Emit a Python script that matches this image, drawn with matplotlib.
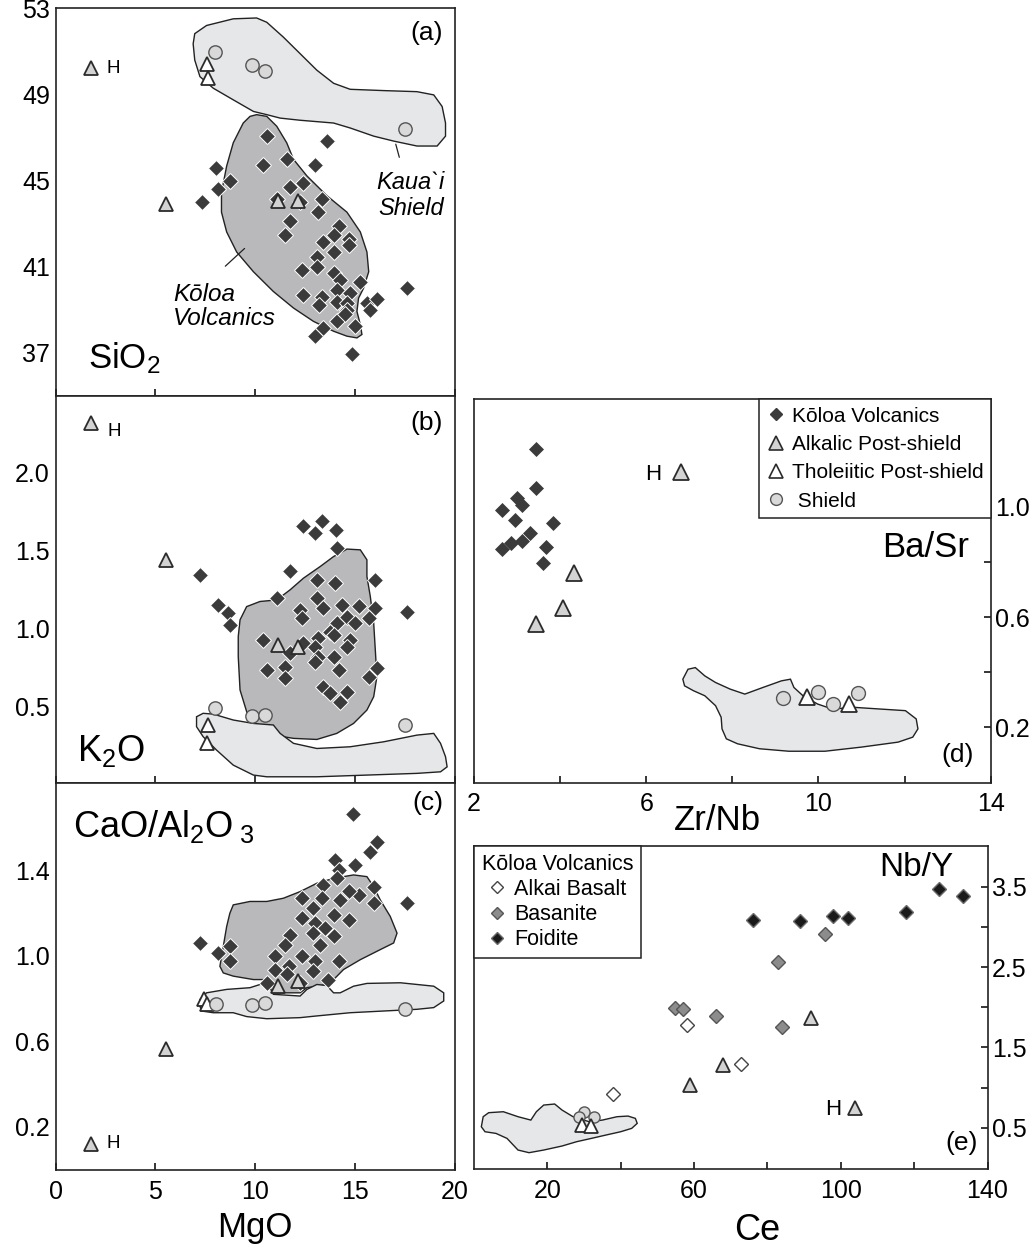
import matplotlib.pyplot as plt
from matplotlib.lines import Line2D
from matplotlib.ticker import FixedLocator, FixedFormatter

plt.rcParams['font.family'] = ['Liberation Sans', 'DejaVu Sans']
plt.rcParams['mathtext.default'] = 'regular'

W, H = 1034, 1248

# ---------------- data: MgO panels (a)-(c) ----------------
a_kol_mgo = [10.59, 13.6, 8.07, 10.42, 11.59, 13.02, 8.74, 8.16, 7.32, 11.76, 12.43, 11.09, 12.26,
             13.35, 13.18, 11.76, 11.51, 14.19, 13.43, 13.94, 14.69, 14.69, 13.1, 12.35, 13.1, 13.94,
             14.27, 15.28, 14.1, 12.43, 13.35, 14.77, 13.2, 14.1, 14.6, 14.6, 15.61, 16.11, 15.78,
             14.1, 13.43, 13.02, 15.03, 14.86, 17.62, 14.5, 13.94]
a_kol_sio2 = [47.08, 46.85, 45.6, 45.72, 46.0, 45.74, 45.0, 44.6, 44.0, 44.69, 44.92, 44.15, 44.0,
              44.15, 43.54, 43.15, 42.46, 42.92, 42.15, 42.46, 42.3, 42.0, 41.46, 40.85, 41.0, 40.7,
              40.38, 40.3, 39.9, 39.7, 39.6, 39.77, 39.2, 39.38, 39.3, 39.0, 39.3, 39.5, 39.0,
              38.46, 38.15, 37.77, 38.23, 36.92, 40.0, 38.8, 41.7]

b_kol_mgo = [12.43, 13.02, 13.35, 14.07, 14.1, 7.24, 8.16, 8.66, 8.74, 11.76, 11.09, 13.1, 14.02,
             13.1, 13.43, 14.36, 15.19, 16.0, 16.0, 15.7, 17.62, 12.26, 12.34, 14.1, 14.6, 15.02,
             13.77, 13.94, 13.18, 14.77, 14.6, 10.42, 11.76, 12.43, 13.02, 13.18, 13.94, 13.02,
             10.59, 11.51, 11.51, 14.19, 15.7, 16.11, 13.43, 13.77, 14.6, 14.27]
b_kol_k2o = [1.655, 1.61, 1.687, 1.633, 1.515, 1.343, 1.15, 1.097, 1.02, 1.365, 1.193, 1.311, 1.29,
             1.193, 1.129, 1.15, 1.14, 1.311, 1.129, 1.064, 1.107, 1.118, 1.064, 1.032, 1.075, 1.032,
             0.979, 0.957, 0.936, 0.925, 0.882, 0.925, 0.839, 0.903, 0.882, 0.818, 0.818, 0.785,
             0.732, 0.753, 0.678, 0.732, 0.689, 0.742, 0.624, 0.582, 0.592, 0.528]

c_kol_mgo = [14.91, 16.11, 15.78, 14.02, 15.03, 14.19, 13.43, 14.1, 15.95, 15.19, 14.69, 17.62,
             15.95, 12.35, 13.35, 12.93, 14.27, 13.94, 12.35, 13.02, 13.52, 14.69, 7.24, 8.74, 8.16,
             8.74, 11.76, 12.93, 13.94, 11.51, 13.27, 10.99, 12.35, 13.02, 14.19, 11.68, 10.99,
             12.93, 13.68, 11.59, 10.59, 12.26]
c_kol_cao = [1.664, 1.532, 1.485, 1.447, 1.423, 1.4, 1.33, 1.361, 1.322, 1.284, 1.3, 1.248, 1.245,
             1.268, 1.268, 1.222, 1.26, 1.191, 1.175, 1.152, 1.129, 1.167, 1.059, 1.043, 1.012,
             0.974, 1.098, 1.105, 1.09, 1.051, 1.051, 0.997, 0.997, 0.974, 0.974, 0.95, 0.935,
             0.927, 0.888, 0.912, 0.873, 0.873]

alk_mgo = [1.79, 5.56, 11.17, 12.18]
alk_sio2 = [50.23, 43.92, 44.08, 44.08]
alk_k2o = [2.32, 1.44, 0.893, 0.882]
alk_cao = [0.121, 0.563, 0.86, 0.881]

thol_mgo_a = [7.57, 7.66]
thol_sio2 = [50.46, 49.77]
thol_mgo_b = [7.66, 7.57]
thol_k2o = [0.378, 0.26]
thol_mgo_c = [7.44, 7.57]
thol_cao = [0.795, 0.772]

sh_mgo = [7.99, 9.83, 10.5, 17.54]
sh_sio2 = [51.0, 50.38, 50.1, 47.42]
sh_k2o = [0.485, 0.436, 0.442, 0.378]
sh_mgo_c = [8.07, 9.83, 10.5, 17.54]
sh_cao = [0.772, 0.767, 0.78, 0.749]

# field outlines
kauai_a_x = [6.98, 7.57, 8.91, 10.08, 10.59, 11.42, 12.26, 13.1, 13.94, 14.77, 16.45, 18.12, 18.96,
             19.38, 19.55, 19.55, 19.13, 18.12, 16.95, 15.95, 14.77, 13.94, 12.26, 11.26, 10.59,
             9.92, 8.91, 7.91, 7.24, 6.98, 6.9]
kauai_a_y = [51.85, 52.23, 52.54, 52.58, 52.38, 51.69, 50.92, 50.15, 49.54, 49.26, 49.2, 49.15, 49.0,
             48.46, 47.69, 47.08, 46.62, 46.62, 46.85, 47.08, 47.46, 47.69, 47.82, 47.92, 48.08,
             48.23, 48.77, 49.31, 49.85, 50.62, 51.38]
koloa_a_x = [10.08, 10.59, 11.09, 11.59, 11.93, 12.6, 13.6, 14.61, 15.28, 15.61, 15.7, 15.44, 15.19,
             15.11, 15.28, 15.36, 15.11, 14.61, 13.94, 12.93, 11.93, 10.92, 9.92, 9.08, 8.58, 8.32,
             8.32, 8.58, 8.91, 9.41, 9.75]
koloa_a_y = [48.08, 48.0, 47.54, 46.77, 46.0, 45.23, 44.31, 43.54, 42.62, 41.69, 40.77, 40.0, 39.54,
             38.92, 38.31, 37.85, 37.69, 37.77, 38.0, 38.46, 39.08, 39.85, 40.77, 41.69, 42.62,
             43.54, 44.46, 45.69, 46.77, 47.69, 48.0]
koloa_b_x = [9.25, 9.58, 10.25, 11.09, 11.76, 12.43, 13.27, 13.94, 14.61, 15.28, 15.61, 15.61, 15.78,
             15.95, 16.03, 16.11, 15.95, 15.61, 14.94, 14.1, 13.1, 11.93, 10.92, 10.08, 9.66, 9.25,
             9.16, 9.16]
koloa_b_y = [1.054, 1.139, 1.172, 1.182, 1.247, 1.322, 1.397, 1.461, 1.509, 1.504, 1.44, 1.333,
             1.204, 1.032, 0.861, 0.689, 0.56, 0.474, 0.388, 0.324, 0.285, 0.292, 0.313, 0.356,
             0.431, 0.603, 0.818, 0.946]
shield_b_x = [7.07, 7.4, 7.91, 8.91, 9.92, 10.92, 11.26, 11.93, 13.1, 14.77, 16.45, 18.12, 18.96,
              19.3, 19.55, 19.63, 19.3, 18.12, 15.61, 13.1, 10.59, 9.92, 8.91, 8.07, 7.4, 7.07]
shield_b_y = [0.431, 0.453, 0.448, 0.41, 0.388, 0.378, 0.324, 0.26, 0.227, 0.238, 0.27, 0.313,
              0.324, 0.26, 0.174, 0.109, 0.077, 0.067, 0.056, 0.045, 0.045, 0.056, 0.12, 0.217,
              0.303, 0.367]
koloa_c_x = [8.74, 8.91, 9.75, 10.59, 11.42, 12.26, 13.1, 13.94, 14.94, 15.61, 15.95, 16.28, 16.78,
             17.12, 16.95, 16.28, 15.28, 14.44, 13.94, 13.6, 13.1, 12.6, 12.26, 11.42, 10.92, 10.59,
             10.42, 9.92, 8.91, 8.41, 8.24, 8.41, 8.58]
koloa_c_y = [1.198, 1.237, 1.253, 1.253, 1.268, 1.299, 1.338, 1.361, 1.377, 1.369, 1.322, 1.26,
             1.183, 1.105, 1.059, 1.028, 0.981, 0.935, 0.888, 0.865, 0.857, 0.85, 0.826, 0.826,
             0.826, 0.857, 0.888, 0.888, 0.904, 0.919, 0.95, 1.043, 1.136]
shield_c_x = [7.24, 7.57, 8.58, 9.75, 10.42, 10.75, 10.92, 12.26, 12.6, 13.1, 13.6, 13.94, 14.27,
              14.94, 15.61, 17.29, 18.96, 19.46, 19.46, 18.96, 18.12, 16.45, 14.77, 13.1, 12.26,
              10.59, 9.58, 8.91, 7.91, 7.32, 7.24]
shield_c_y = [0.795, 0.826, 0.842, 0.85, 0.87, 0.85, 0.819, 0.811, 0.842, 0.865, 0.86, 0.826, 0.826,
              0.857, 0.87, 0.873, 0.857, 0.826, 0.788, 0.757, 0.749, 0.741, 0.733, 0.718, 0.71,
              0.705, 0.715, 0.733, 0.733, 0.741, 0.764]

# ---------------- data: panel (d) Zr/Nb vs Ba/Sr ----------------
d_kol_zrnb = [3.43, 3.44, 2.99, 3.12, 2.65, 2.95, 3.84, 3.31, 3.12, 2.86, 2.65, 3.67, 3.61]
d_kol_basr = [1.21, 1.066, 1.03, 1.006, 0.988, 0.952, 0.94, 0.904, 0.874, 0.868, 0.846, 0.853, 0.796]
d_alk_zrnb = [6.81, 4.32, 4.07, 3.44]
d_alk_basr = [1.126, 0.76, 0.634, 0.574]
d_thol_zrnb = [9.73, 10.7]
d_thol_basr = [0.309, 0.285]
d_sh_zrnb = [9.18, 9.98, 10.34, 10.92]
d_sh_basr = [0.306, 0.327, 0.285, 0.325]
shield_d_x = [6.85, 6.97, 7.14, 7.36, 7.61, 7.95, 8.29, 8.71, 9.14, 9.35, 9.43, 9.64, 9.98, 10.32,
              10.83, 11.42, 12.02, 12.27, 12.31, 12.19, 11.85, 11.0, 10.15, 9.31, 8.63, 8.12, 7.86,
              7.76, 7.74, 7.61, 7.36, 7.1, 6.89]
shield_d_y = [0.375, 0.411, 0.417, 0.387, 0.363, 0.339, 0.321, 0.345, 0.369, 0.375, 0.345, 0.315,
              0.285, 0.267, 0.273, 0.267, 0.261, 0.231, 0.195, 0.165, 0.147, 0.129, 0.114, 0.114,
              0.123, 0.141, 0.159, 0.195, 0.237, 0.279, 0.315, 0.333, 0.351]

# ---------------- data: panel (e) Ce vs Nb/Y ----------------
foid_ce = [76, 89, 98, 102, 117.8, 126.8, 133.2]
foid_nby = [3.085, 3.077, 3.135, 3.106, 3.18, 3.47, 3.384]
bas_ce = [95.8, 83, 54.8, 57, 66, 84]
bas_nby = [2.907, 2.558, 1.985, 1.977, 1.894, 1.749]
ab_ce = [58, 72.8, 38]
ab_nby = [1.778, 1.288, 0.915]
e_alk_ce = [92, 68, 58.8, 104]
e_alk_nby = [1.861, 1.28, 1.031, 0.741]
e_thol_ce = [29.5, 31.8]
e_thol_nby = [0.533, 0.52]
e_sh_ce = [30, 28.5, 32.8]
e_sh_nby = [0.699, 0.637, 0.637]
shield_e_x = [2.5, 4, 8, 12, 15.5, 17, 19, 22, 24, 27, 29, 31.5, 35, 39, 42, 44, 44.5, 43, 40, 36,
              32, 28, 24, 19, 15, 12, 9, 6, 3, 2]
shield_e_y = [0.637, 0.687, 0.699, 0.637, 0.595, 0.699, 0.782, 0.795, 0.72, 0.637, 0.604, 0.575,
              0.595, 0.637, 0.645, 0.616, 0.554, 0.492, 0.45, 0.409, 0.367, 0.326, 0.272, 0.222,
              0.189, 0.222, 0.367, 0.429, 0.45, 0.512]

# ---------------- styles ----------------
DARK_FIELD = '#b9b9bb'
LIGHT_FIELD = '#e6e7e8'
TICK_FS = 18
kol = dict(ls='none', marker='D', ms=8.4, mfc='#3b3b3b', mec='white', mew=0.7)
alk = dict(ls='none', marker='^', ms=10.5, mfc='#d3d3d3', mec='#2b2b2b', mew=1.3)
thol = dict(ls='none', marker='^', ms=10.5, mfc='white', mec='#2b2b2b', mew=1.3)
shd = dict(ls='none', marker='o', ms=9.6, mfc='#d9d9d9', mec='#555555', mew=1.0)

fig = plt.figure(figsize=(W / 100, H / 100), dpi=100)


def add_ax(l, t, r, b):
    ax = fig.add_axes([l / W, 1 - b / H, (r - l) / W, (b - t) / H])
    for s in ax.spines.values():
        s.set_linewidth(1.2)
        s.set_color('#222222')
    return ax


def ftext(x, y, s, **kw):
    fig.text(x / W, 1 - y / H, s, **kw)


def field(ax, xs, ys, color):
    ax.fill(xs, ys, facecolor=color, edgecolor='#222222', lw=1.0, zorder=1)


def left_axes(ax, ylim, yticks):
    ax.set_xlim(0, 20)
    ax.set_ylim(*ylim)
    ax.set_xticks([0, 5, 10, 15, 20])
    ax.set_yticks(yticks)
    ax.tick_params(axis='x', direction='in', length=5, width=1.1, top=False, labelsize=TICK_FS, pad=7)
    ax.tick_params(axis='y', length=0, labelsize=TICK_FS, pad=4)


# ---- (a) SiO2 ----
ax = add_ax(55.5, 8.3, 454.5, 395.7)
field(ax, kauai_a_x, kauai_a_y, LIGHT_FIELD)
field(ax, koloa_a_x, koloa_a_y, DARK_FIELD)
ax.plot(a_kol_mgo, a_kol_sio2, zorder=3, **kol)
ax.plot(alk_mgo, alk_sio2, zorder=4, **alk)
ax.plot(thol_mgo_a, thol_sio2, zorder=4, **thol)
ax.plot(sh_mgo, sh_sio2, zorder=4, **shd)
left_axes(ax, (35.0, 53.03), [37, 41, 45, 49, 53])
ax.set_yticklabels(['37', '41', '45', '49', '53'])
ax.tick_params(axis='x', labelbottom=False)
ax.annotate('H', (alk_mgo[0], alk_sio2[0]), xytext=(11, 0), textcoords='offset points',
            va='center', ha='left', fontsize=13.5)
ax.annotate('', xy=(17.02, 46.83), xytext=(17.27, 45.97),
            arrowprops=dict(arrowstyle='-', lw=0.9, color='#222222'))
ax.annotate('', xy=(9.58, 41.94), xytext=(8.41, 40.94),
            arrowprops=dict(arrowstyle='-', lw=0.9, color='#222222'))
ftext(427, 33, '(a)', fontsize=19, ha='center', va='center')
ftext(88, 368, 'SiO$_2$', fontsize=25, ha='left', va='baseline')
ftext(410.7, 195.8, 'Kaua`i\nShield', fontsize=17, style='italic', ha='center', va='center',
      linespacing=1.15)
ftext(173.3, 306.7, 'K\u014dloa\nVolcanics', fontsize=17.5, style='italic', ha='left', va='center',
      linespacing=1.05)

# ---- (b) K2O ----
ax = add_ax(55.5, 395.7, 454.5, 782.7)
field(ax, koloa_b_x, koloa_b_y, DARK_FIELD)
field(ax, shield_b_x, shield_b_y, LIGHT_FIELD)
ax.plot(b_kol_mgo, b_kol_k2o, zorder=3, **kol)
ax.plot(alk_mgo, alk_k2o, zorder=4, **alk)
ax.plot(thol_mgo_b, thol_k2o, zorder=4, **thol)
ax.plot(sh_mgo, sh_k2o, zorder=4, **shd)
left_axes(ax, (0.007, 2.495), [0.5, 1.0, 1.5, 2.0])
ax.set_yticklabels(['0.5', '1.0', '1.5', '2.0'])
ax.tick_params(axis='x', labelbottom=False)
ax.annotate('H', (alk_mgo[0], alk_k2o[0]), xytext=(12, -6), textcoords='offset points',
            va='center', ha='left', fontsize=13.5)
ftext(427, 423.3, '(b)', fontsize=19, ha='center', va='center')
ftext(76.7, 761, 'K$_2$O', fontsize=26, ha='left', va='baseline')

# ---- (c) CaO/Al2O3 ----
ax = add_ax(55.5, 782.7, 454.5, 1170)
field(ax, koloa_c_x, koloa_c_y, DARK_FIELD)
field(ax, shield_c_x, shield_c_y, LIGHT_FIELD)
ax.plot(c_kol_mgo, c_kol_cao, zorder=3, **kol)
ax.plot(alk_mgo, alk_cao, zorder=4, **alk)
ax.plot(thol_mgo_c, thol_cao, zorder=4, **thol)
ax.plot(sh_mgo_c, sh_cao, zorder=4, **shd)
left_axes(ax, (-0.002, 1.808), [0.2, 0.6, 1.0, 1.4])
ax.set_yticklabels(['0.2', '0.6', '1.0', '1.4'])
ax.set_xticklabels(['0', '5', '10', '15', '20'])
ax.annotate('H', (alk_mgo[0], alk_cao[0]), xytext=(11, 0), textcoords='offset points',
            va='center', ha='left', fontsize=13.5)
ftext(428.3, 803.3, '(c)', fontsize=19, ha='center', va='center')
ftext(73.3, 837, 'CaO/Al$_2$O$\\,_3$', fontsize=26, ha='left', va='baseline')
ftext(255, 1237, 'MgO', fontsize=25, ha='center', va='baseline')

# ---- (d) Zr/Nb vs Ba/Sr ----
ax = add_ax(474, 399.3, 990.7, 782.7)
field(ax, shield_d_x, shield_d_y, LIGHT_FIELD)
ax.plot(d_kol_zrnb, d_kol_basr, zorder=3, **dict(kol, ms=7.4, mec='#3b3b3b', mew=0.5))
ax.plot(d_alk_zrnb, d_alk_basr, zorder=4, **dict(alk, ms=11))
ax.plot(d_thol_zrnb, d_thol_basr, zorder=4, **dict(thol, ms=11))
ax.plot(d_sh_zrnb, d_sh_basr, zorder=4, **dict(shd, ms=10))
ax.set_xlim(2, 14)
ax.set_ylim(0, 1.389)
ax.xaxis.set_major_locator(FixedLocator([2, 4, 6, 8, 10, 12, 14]))
ax.xaxis.set_major_formatter(FixedFormatter(['2', '', '6', '', '10', '', '14']))
ax.yaxis.tick_right()
ax.yaxis.set_major_locator(FixedLocator([0.2, 0.4, 0.6, 0.8, 1.0, 1.2]))
ax.yaxis.set_major_formatter(FixedFormatter(['0.2', '', '0.6', '', '1.0', '']))
ax.tick_params(direction='in', length=5, width=1.1, labelsize=TICK_FS)
ax.tick_params(axis='x', pad=7)
ax.tick_params(axis='y', pad=3)
ax.annotate('H', (d_alk_zrnb[0], d_alk_basr[0]), xytext=(-14, -2), textcoords='offset points',
            va='center', ha='right', fontsize=16)
handles = [
    Line2D([], [], ls='none', marker='D', ms=6.5, mfc='#3b3b3b', mec='#3b3b3b'),
    Line2D([], [], ls='none', marker='^', ms=10, mfc='#d3d3d3', mec='#2b2b2b', mew=1.2),
    Line2D([], [], ls='none', marker='^', ms=10, mfc='white', mec='#2b2b2b', mew=1.2),
    Line2D([], [], ls='none', marker='o', ms=8.5, mfc='#d9d9d9', mec='#555555', mew=1.0),
]
labels = ['K\u014dloa Volcanics', 'Alkalic Post-shield', 'Tholeiitic Post-shield', ' Shield']
leg = ax.legend(handles, labels, loc='upper right', bbox_to_anchor=(1, 1), borderaxespad=0,
                fancybox=False, framealpha=1, edgecolor='#222222', fontsize=15,
                handlelength=0.9, handletextpad=0.3, borderpad=0.35, labelspacing=0.45)
leg.get_frame().set_linewidth(1.1)
ftext(969, 557, 'Ba/Sr', fontsize=25, ha='right', va='baseline')
ftext(958, 755, '(d)', fontsize=19, ha='center', va='center')
ftext(717, 830, 'Zr/Nb', fontsize=25, ha='center', va='baseline')

# ---- (e) Ce vs Nb/Y ----
ax = add_ax(474, 846, 987.5, 1169)
field(ax, shield_e_x, shield_e_y, LIGHT_FIELD)
ax.plot(e_sh_ce, e_sh_nby, zorder=3, **dict(shd, ms=8))
ax.plot(e_thol_ce, e_thol_nby, zorder=4, **dict(thol, ms=10))
ax.plot(e_alk_ce, e_alk_nby, zorder=4, **dict(alk, ms=10))
ax.plot(ab_ce, ab_nby, zorder=4, ls='none', marker='D', ms=6.8, mfc='white', mec='#444444', mew=1.0)
ax.plot(bas_ce, bas_nby, zorder=4, ls='none', marker='D', ms=6.8, mfc='#8c8c8c', mec='#555555', mew=1.0)
ax.plot(foid_ce, foid_nby, zorder=4, ls='none', marker='D', ms=6.8, mfc='#1a1a1a', mec='#6a6a6a', mew=1.0)
ax.set_xlim(0, 140)
ax.set_ylim(-0.014, 4.007)
ax.xaxis.set_major_locator(FixedLocator([20, 40, 60, 80, 100, 120, 140]))
ax.xaxis.set_major_formatter(FixedFormatter(['20', '', '60', '', '100', '', '140']))
ax.yaxis.tick_right()
ax.yaxis.set_major_locator(FixedLocator([0.5, 1.0, 1.5, 2.0, 2.5, 3.0, 3.5]))
ax.yaxis.set_major_formatter(FixedFormatter(['0.5', '', '1.5', '', '2.5', '', '3.5']))
ax.tick_params(direction='in', length=5, width=1.1, labelsize=TICK_FS)
ax.tick_params(axis='x', pad=7)
ax.tick_params(axis='y', pad=3)
ax.annotate('H', (e_alk_ce[3], e_alk_nby[3]), xytext=(-10, -1), textcoords='offset points',
            va='center', ha='right', fontsize=16)
handles = [
    Line2D([], [], ls='none', marker='D', ms=6, mfc='white', mec='#444444', mew=1.0),
    Line2D([], [], ls='none', marker='D', ms=6, mfc='#8c8c8c', mec='#555555', mew=1.0),
    Line2D([], [], ls='none', marker='D', ms=6, mfc='#1a1a1a', mec='#6a6a6a', mew=1.0),
]
leg = ax.legend(handles, ['Alkai Basalt', 'Basanite', 'Foidite'], title='K\u014dloa Volcanics',
                loc='upper left', bbox_to_anchor=(0, 1), borderaxespad=0, fancybox=False,
                framealpha=1, edgecolor='#222222', fontsize=15.5, title_fontsize=15.5,
                alignment='left', handlelength=1.4, handletextpad=0.1, borderpad=0.35,
                labelspacing=0.2)
leg.get_frame().set_linewidth(1.1)
ftext(953, 868, 'Nb/Y', fontsize=24, ha='right', va='center')
ftext(962, 1143, '(e)', fontsize=19, ha='center', va='center')
ftext(756.7, 1240, 'Ce', fontsize=26, ha='center', va='baseline')

fig.savefig('out.png', dpi=100)
